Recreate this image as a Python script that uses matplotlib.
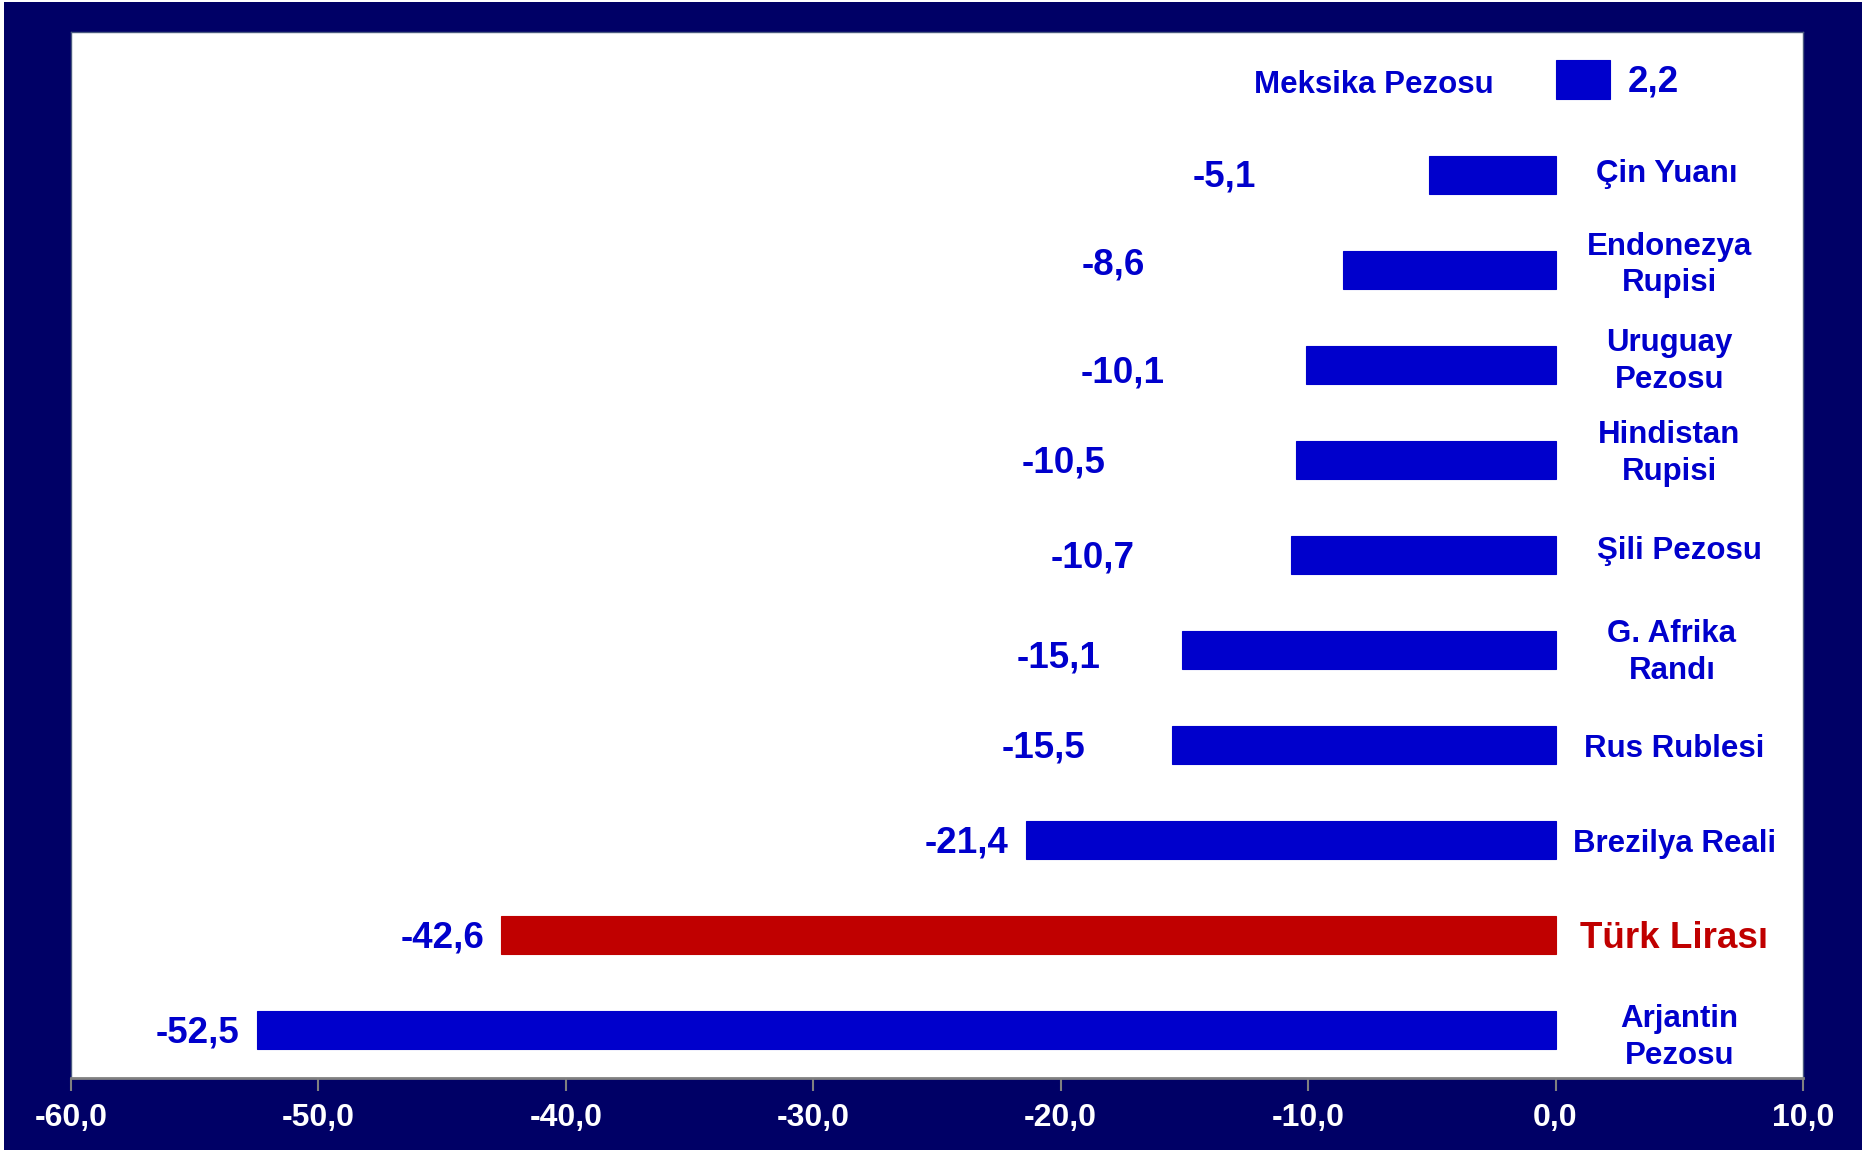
import matplotlib.pyplot as plt
from matplotlib.patches import Rectangle

# veriler (yukaridan asagiya)
kurlar = ['Meksika Pezosu', 'Çin Yuanı', 'Endonezya\nRupisi', 'Uruguay\nPezosu',
          'Hindistan\nRupisi', 'Şili Pezosu', 'G. Afrika\nRandı', 'Rus Rublesi',
          'Brezilya Reali', 'Türk Lirası', 'Arjantin\nPezosu']
degisim = [2.2, -5.1, -8.6, -10.1, -10.5, -10.7, -15.1, -15.5, -21.4, -42.6, -52.5]
x_ticks = [-60, -50, -40, -30, -20, -10, 0, 10]

# etiket yerleri (elle ayarlanmis gibi duruyor)
deger_x = [2.9, -12.1, -16.6, -15.8, -18.2, -17.0, -18.4, -19.0, -22.1, -43.3, -53.2]
deger_dy = [0.03, 0.03, -0.05, 0.09, 0.03, 0.03, 0.08, 0.03, 0.03, 0.03, 0.03]
ad_x = [-2.5, 4.5, 4.6, 4.6, 4.6, 5.0, 4.7, 4.8, 4.8, 4.8, 5.0]
ad_dy = [0.055, -0.01, -0.05, -0.03, -0.07, -0.045, 0.03, 0.045, 0.04, 0.03, 0.07]

MAVI = '#0000cc'
KIRMIZI = '#c00000'
LACIVERT = '#000066'

def fmt(v):
    return f'{v:.1f}'.replace('.', ',')

fig = plt.figure(figsize=(18.62, 11.50), dpi=100, facecolor='white')
fig.patches.append(Rectangle((0.002, 0), 0.998, 0.998, transform=fig.transFigure,
                             facecolor=LACIVERT, edgecolor='none', zorder=-1))
ax = fig.add_axes([0.0381, 0.0626, 0.9302, 0.9096])
ax.set_facecolor('white')

n = len(kurlar)
y = list(range(n))
renkler = [KIRMIZI if k == 'Türk Lirası' else MAVI for k in kurlar]
ax.barh(y, degisim, height=0.4, color=renkler, edgecolor=renkler, linewidth=0.8)

ax.set_xlim(-60, 10)
ax.set_ylim(n - 0.5, -0.5)
ax.set_xticks(x_ticks)
ax.set_xticklabels([fmt(t) for t in x_ticks], color='white', fontsize=23,
                   fontweight='bold', family='Liberation Sans')
ax.set_yticks([])
ax.tick_params(axis='x', direction='out', length=9, width=1.5, color='#808080', pad=9)

for s in ['left', 'top', 'right']:
    ax.spines[s].set_color('#4a5a80')
    ax.spines[s].set_linewidth(1)
ax.spines['bottom'].set_color('#808080')
ax.spines['bottom'].set_linewidth(2)

for i, (k, v) in enumerate(zip(kurlar, degisim)):
    tr = k == 'Türk Lirası'
    renk = KIRMIZI if tr else MAVI
    # deger etiketi
    ha = 'left' if v > 0 else 'right'
    ax.text(deger_x[i], i + deger_dy[i], fmt(v), ha=ha, va='center', color=MAVI,
            fontsize=26.5, fontweight='bold', family='Liberation Sans')
    # kur adi
    ax.text(ad_x[i], i + ad_dy[i], k, ha='right' if v > 0 else 'center', va='center',
            color=renk, fontsize=26.5 if tr else 22.5, fontweight='bold',
            family='Liberation Sans', linespacing=1.3)

fig.savefig('out.png', dpi=100, facecolor=fig.get_facecolor())
